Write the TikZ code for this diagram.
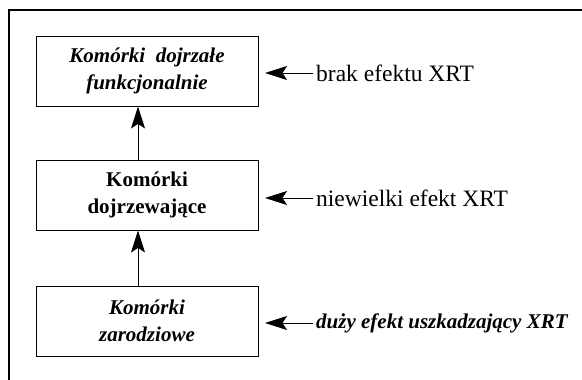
\documentclass[tikz,border=0pt]{standalone}
\usepackage{fontspec}
\setmainfont{Liberation Serif}
\usetikzlibrary{arrows.meta}
\begin{document}
\begin{tikzpicture}[x=1pt,y=-1pt,
  cell/.style={draw, line width=0.9pt, minimum width=222pt, minimum height=70pt, align=center, inner sep=0pt, font=\fontsize{21}{27}\selectfont},
  lbl/.style={anchor=west, inner sep=0pt, font=\fontsize{23.5}{27}\selectfont},
  lblb/.style={anchor=west, inner sep=0pt, font=\fontsize{21}{25}\selectfont\bfseries\itshape},
  tip/.style={-{Stealth[length=22pt,width=14pt,inset=4.5pt]}, line width=1pt},
  frame/.style={line width=1.3pt}]
\useasboundingbox (0,0) rectangle (582,380);
\draw[frame] (9,380) -- (9,10) -- (582,10);
\node[cell] (b1) at (147,71) {\textbf{\textit{Komórki\ \ dojrzałe}}\\\textbf{\textit{funkcjonalnie}}};
\node[cell] (b2) at (147,195) {\textbf{Komórki}\\\textbf{dojrzewające}};
\node[cell] (b3) at (147,321) {\textbf{\textit{Komórki}}\\\textbf{\textit{zarodziowe}}};
\draw[tip] (b2.north -| 138,0) -- (b1.south -| 138,0);
\draw[tip] (b3.north -| 138,0) -- (b2.south -| 138,0);
\node[lbl] (l1) at (316,73) {brak efektu XRT};
\node[lbl] (l2) at (316,198) {niewielki efekt XRT};
\node[lblb] (l3) at (316,323) {duży efekt uszkadzający XRT};
\coordinate (t1) at (265,73);
\coordinate (t2) at (265,198);
\coordinate (t3) at (265,323);
\draw[tip] ([xshift=-3pt]l1.west) -- (t1);
\draw[tip] ([xshift=-3pt]l2.west) -- (t2);
\draw[tip] ([xshift=-3pt]l3.west) -- (t3);
\end{tikzpicture}
\end{document}
